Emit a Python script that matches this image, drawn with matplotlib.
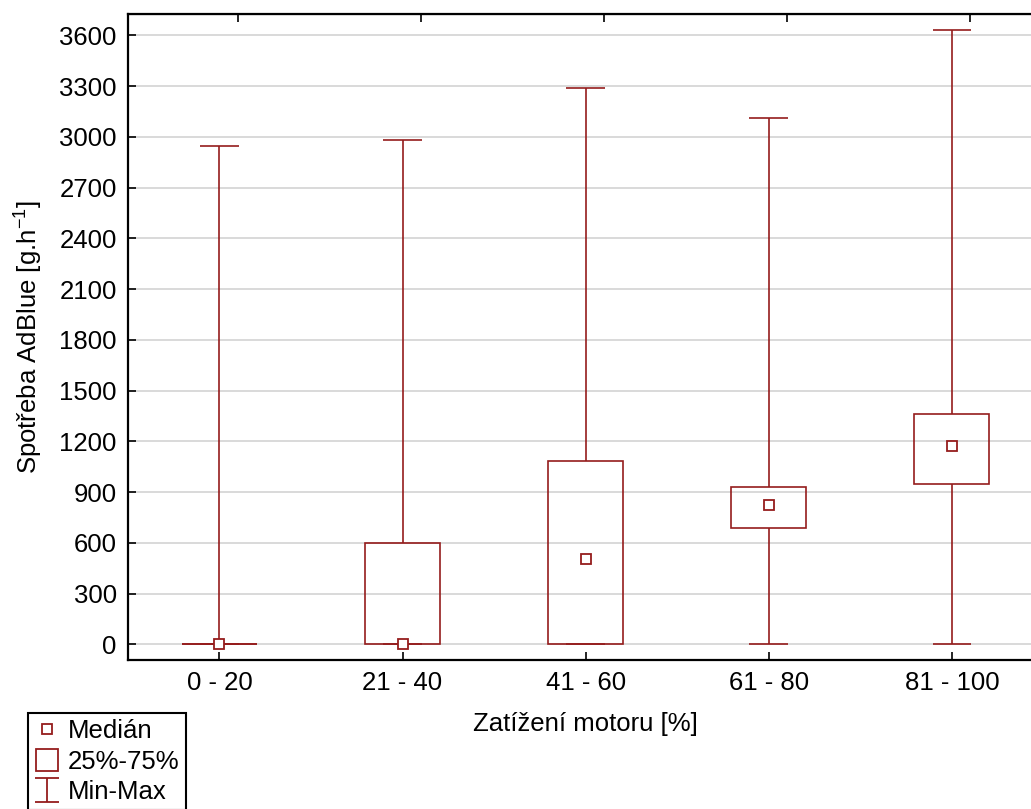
import matplotlib.pyplot as plt
from matplotlib.lines import Line2D
from matplotlib.path import Path

plt.rcParams['font.family'] = ['Liberation Sans', 'DejaVu Sans']

# Data
categories = ["0 - 20", "21 - 40", "41 - 60", "61 - 80", "81 - 100"]
mins = [0, 0, 0, 0, 0]
q1 = [0, 0, 0, 686, 946]
medians = [0, 0, 504, 822, 1175]
q3 = [0, 599, 1084, 932, 1360]
maxs = [2949, 2982, 3291, 3114, 3634]

color = "#951c1c"   # dark red used by the boxes
box_w = 0.41        # box width in category units
cap_w = 0.21        # whisker cap width
fs = 18.5           # font size used everywhere

fig = plt.figure(figsize=(10.31, 8.09), dpi=100)
ax = fig.add_axes([0.124, 0.184, 0.888, 0.799])

x = range(len(categories))

# Grid lines behind everything
ax.set_axisbelow(True)
ax.yaxis.grid(True, color="#d9d9d9", linewidth=1.4)

# Whiskers: min -> q1 and q3 -> max
ax.vlines(x, mins, q1, color=color, linewidth=1.2)
ax.vlines(x, q3, maxs, color=color, linewidth=1.2)
# Caps
ax.hlines(mins, [p - cap_w / 2 for p in x], [p + cap_w / 2 for p in x], color=color, linewidth=1.2)
ax.hlines(maxs, [p - cap_w / 2 for p in x], [p + cap_w / 2 for p in x], color=color, linewidth=1.2)

# Boxes 25%-75%
heights = [b - a for a, b in zip(q1, q3)]
ax.bar(x, heights, bottom=q1, width=box_w, fill=False, edgecolor=color, linewidth=1.2)
# zero height boxes still get a line
for p, a, h in zip(x, q1, heights):
    if h == 0:
        ax.hlines(a, p - box_w / 2, p + box_w / 2, color=color, linewidth=1.2)

# Medians
ax.plot(x, medians, 's', ms=7, mfc='white', mec=color, mew=1.3, linestyle='none', zorder=5)

# Axes styling
ax.set_xlim(-0.5, 4.5)
ax.set_ylim(-93, 3728)
ax.set_yticks(range(0, 3601, 300))
ax.set_xticks(list(x))
ax.set_xticklabels(categories)
ax.tick_params(direction='in', length=6, width=1.2, labelsize=fs, pad=8)
for s in ax.spines.values():
    s.set_linewidth(1.6)

# top ticks sit slightly right of the categories in the original
top = ax.secondary_xaxis('top', functions=(lambda v: v - 0.1, lambda v: v + 0.1))
top.set_xticks(list(x))
top.set_xticklabels([])
top.tick_params(direction='in', length=6, width=1.2)

ax.set_xlabel("Zatížení motoru [%]", fontsize=fs, labelpad=12)
ax.set_ylabel(r"Spotřeba AdBlue [g.h$^{\mathregular{-1}}$]", fontsize=fs, labelpad=11)

# Legend with custom handles
i_marker = Path([(-1, -1), (1, -1), (0, -1), (0, 1), (-1, 1), (1, 1)],
                [Path.MOVETO, Path.LINETO, Path.MOVETO, Path.LINETO, Path.MOVETO, Path.LINETO])
handles = [
    Line2D([], [], marker='s', ms=7, mfc='white', mec=color, mew=1.3, linestyle='none'),
    Line2D([], [], marker='s', ms=16, mfc='white', mec=color, mew=1.3, linestyle='none'),
    Line2D([], [], marker=i_marker, ms=17, color=color, mew=1.3, linestyle='none'),
]
leg = fig.legend(handles, ["Medián", "25%-75%", "Min-Max"], loc='upper left',
                 bbox_to_anchor=(0.027, 0.119), fontsize=fs, frameon=True, fancybox=False,
                 edgecolor='black', framealpha=1, borderpad=0.25, handlelength=1.0,
                 handletextpad=0.3, labelspacing=0.25, borderaxespad=0)
leg.get_frame().set_linewidth(1.5)

fig.savefig("out.png", dpi=100)
